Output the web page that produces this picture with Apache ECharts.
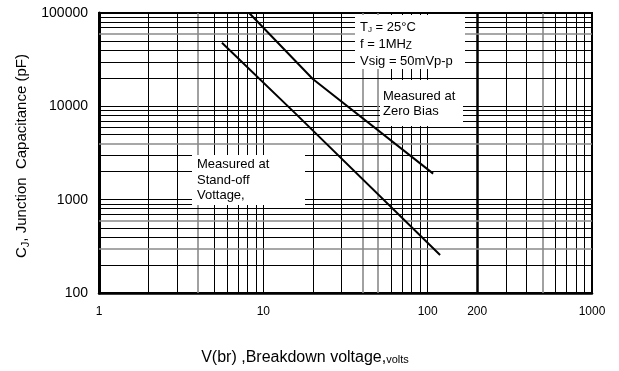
<!DOCTYPE html>
<html>
<head>
<meta charset="utf-8">
<script src="https://cdn.jsdelivr.net/npm/echarts@6/dist/echarts.min.js"></script>
<style>html,body{margin:0;padding:0;background:#fff}#c{width:619px;height:371px}</style>
</head>
<body>
<div id="c"></div>
<script>
// Data
const zeroBiasV = [8.2, 20, 108];
const zeroBiasC = [100000, 19600, 1900];
const standoffV = [5.6, 16, 119];
const standoffC = [48000, 8100, 255];

const xTickLabels = [1, 10, 100, 200, 1000];
const yTickLabels = [100, 1000, 10000, 100000];
const xMinor = [2,3,4,5,6,7,8,9,20,30,40,50,60,70,80,90,200,300,400,500,600,700,800,900];
const yMinor = [200,300,400,500,600,700,800,900,2000,3000,4000,5000,6000,7000,8000,9000,20000,30000,40000,50000,60000,70000,80000,90000];
const grayX = [4, 40, 50, 500];
const grayY = [60000, 4000, 600, 300];
const boldX = [200];

const FONT = '"Liberation Sans", Arial, sans-serif';

const gridLines = [];
xMinor.forEach(v => gridLines.push({
  xAxis: v,
  lineStyle: {
    color: grayX.includes(v) ? '#8a8a8a' : '#000',
    width: boldX.includes(v) ? 2.5 : (grayX.includes(v) ? 1.6 : 1),
    type: 'solid'
  }
}));
yMinor.forEach(v => gridLines.push({
  yAxis: v,
  lineStyle: {
    color: grayY.includes(v) ? '#8a8a8a' : '#000',
    width: grayY.includes(v) ? 1.6 : 1,
    type: 'solid'
  }
}));

const chart = echarts.init(document.getElementById('c'), null, {renderer: 'canvas'});
chart.setOption({
  animation: false,
  backgroundColor: '#fff',
  grid: {left: 99, right: 27, top: 13, bottom: 78, show: true, borderColor: '#000', borderWidth: 2, backgroundColor: 'transparent'},
  xAxis: {
    type: 'log', logBase: 10, min: 1, max: 1000,
    axisLine: {show: true, onZero: false, lineStyle: {color: '#000', width: 2.5}},
    axisTick: {show: false},
    axisLabel: {
      customValues: xTickLabels,
      fontFamily: FONT, fontSize: 12, color: '#000', margin: 13,
      formatter: v => String(Math.round(v))
    },
    splitLine: {show: true, lineStyle: {color: '#000', width: 1}},
    minorSplitLine: {show: false}
  },
  yAxis: {
    type: 'log', logBase: 10, min: 100, max: 100000,
    axisLine: {show: true, onZero: false, lineStyle: {color: '#000', width: 3}},
    axisTick: {show: false},
    axisLabel: {
      customValues: yTickLabels,
      fontFamily: FONT, fontSize: 14, color: '#000', margin: 11,
      formatter: v => String(Math.round(v))
    },
    splitLine: {show: true, lineStyle: {color: '#000', width: 1}}
  },
  series: [
    {
      type: 'line', name: 'grid', data: [], z: 1, silent: true,
      markLine: {
        z: 1,
        silent: true, symbol: ['none', 'none'], animation: false,
        label: {show: false}, emphasis: {disabled: true},
        data: gridLines
      }
    },
    {
      type: 'line', name: 'Zero Bias', z: 5, showSymbol: false, symbol: 'none',
      lineStyle: {color: '#000', width: 2},
      data: zeroBiasV.map((v, i) => [v, zeroBiasC[i]])
    },
    {
      type: 'line', name: 'Stand-off', z: 5, showSymbol: false, symbol: 'none',
      lineStyle: {color: '#000', width: 2},
      data: standoffV.map((v, i) => [v, standoffC[i]])
    }
  ],
  graphic: [
    {type: 'rect', z: 3, shape: {x: 355, y: 15, width: 110, height: 54}, style: {fill: '#fff'}},
    {type: 'rect', z: 3, shape: {x: 380, y: 80, width: 83, height: 46}, style: {fill: '#fff'}},
    {type: 'rect', z: 3, shape: {x: 192, y: 155, width: 113, height: 50}, style: {fill: '#fff'}},
    {type: 'text', z: 6, x: 360, y: 27, style: {
      text: '{a|T}{s|J}{a| = 25°C}', verticalAlign: 'middle',
      rich: {a: {fontFamily: FONT, fontSize: 13, fill: '#000'}, s: {fontFamily: FONT, fontSize: 8, fill: '#000', padding: [6, 0, 0, 0]}}
    }},
    {type: 'text', z: 6, x: 360, y: 44, style: {
      text: '{a|f = 1MH}{s|Z}', verticalAlign: 'middle',
      rich: {a: {fontFamily: FONT, fontSize: 13, fill: '#000'}, s: {fontFamily: FONT, fontSize: 10, fill: '#000', padding: [5, 0, 0, 0]}}
    }},
    {type: 'text', z: 6, x: 360, y: 61, style: {text: 'Vsig = 50mVp-p', verticalAlign: 'middle', font: '13px ' + FONT, fill: '#000'}},
    {type: 'text', z: 6, x: 383, y: 96, style: {text: 'Measured at', verticalAlign: 'middle', font: '13px ' + FONT, fill: '#000'}},
    {type: 'text', z: 6, x: 383, y: 111, style: {text: 'Zero Bias', verticalAlign: 'middle', font: '13px ' + FONT, fill: '#000'}},
    {type: 'text', z: 6, x: 197, y: 164, style: {text: 'Measured at', verticalAlign: 'middle', font: '13px ' + FONT, fill: '#000'}},
    {type: 'text', z: 6, x: 197, y: 180, style: {text: 'Stand-off', verticalAlign: 'middle', font: '13px ' + FONT, fill: '#000'}},
    {type: 'text', z: 6, x: 197, y: 195, style: {text: 'Vottage,', verticalAlign: 'middle', font: '13px ' + FONT, fill: '#000'}},
    {type: 'text', z: 6, x: 22, y: 156, rotation: Math.PI / 2, style: {
      text: '{a|C}{s|J}{a|, Junction  Capacitance (pF)}', align: 'center', verticalAlign: 'middle',
      rich: {a: {fontFamily: FONT, fontSize: 15, fill: '#000'}, s: {fontFamily: FONT, fontSize: 11, fill: '#000', padding: [7, 0, 0, 0]}}
    }},
    {type: 'text', z: 6, x: 305, y: 358, style: {
      text: '{a|V(br) ,Breakdown voltage,}{b|volts}', align: 'center', verticalAlign: 'middle',
      rich: {a: {fontFamily: FONT, fontSize: 16, fill: '#000'}, b: {fontFamily: FONT, fontSize: 11, fill: '#000', padding: [3, 0, 0, 0]}}
    }}
  ]
});
</script>
</body>
</html>
